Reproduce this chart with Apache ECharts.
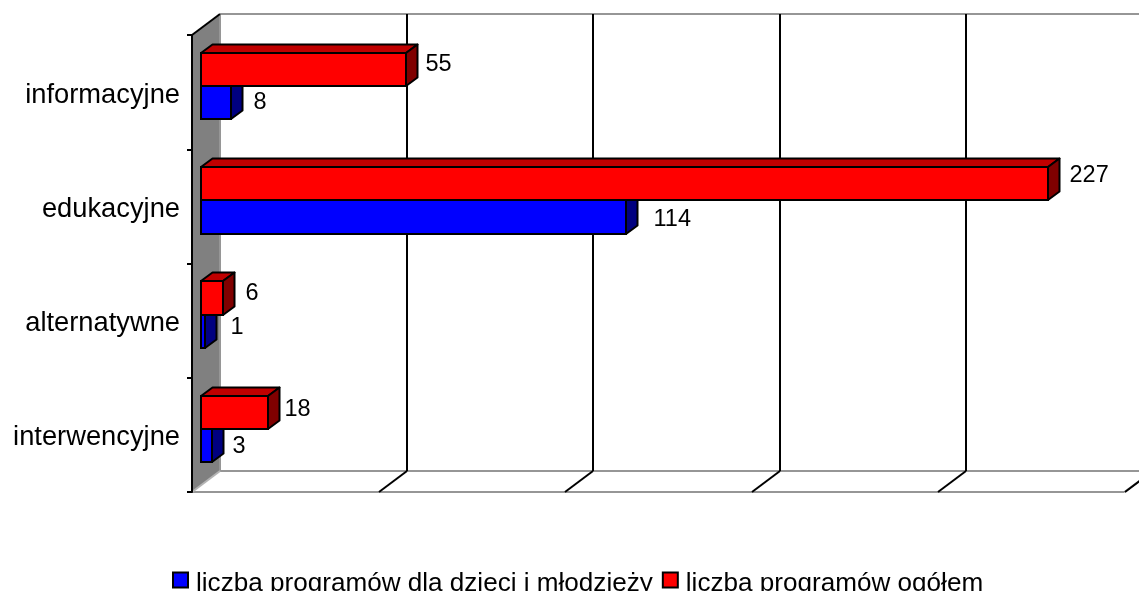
<!DOCTYPE html>
<html>
<head>
<meta charset="utf-8">
<style>
  html, body { margin: 0; padding: 0; background: #fff; overflow: hidden; }
  #chart { width: 1139px; height: 591px; }
</style>
<script src="https://cdn.jsdelivr.net/npm/echarts@6/dist/echarts.min.js"></script>
</head>
<body>
<div id="chart"></div>
<script>
const categories = ['informacyjne', 'edukacyjne', 'alternatywne', 'interwencyjne']
const youthPrograms = [8, 114, 1, 3]
const allPrograms = [55, 227, 6, 18]
const xTicks = [0, 50, 100, 150, 200, 250]

// 3D look: offset of the back wall and of the bars from the front plane
const wallDepth = [28, -21]
const barOrigin = [9, -6]
const barDepth = [11.5, -8.5]
const edge = { stroke: '#000', lineWidth: 2 }
const gray = { stroke: '#969696', lineWidth: 2 }

// excel placed the labels by hand, [dx, dy] from the default spot
const youthNudge = [[1, 0], [6, 3], [4, -4], [-1, 1]]
const allNudge = [[-2, -5], [0, -8], [1, -4], [-5, -3]]

function line(p, q, style) {
  return { type: 'line', shape: { x1: p[0], y1: p[1], x2: q[0], y2: q[1] }, style: style }
}

function shift(p, d) {
  return [p[0] + d[0], p[1] + d[1]]
}

function renderWall(params, api) {
  const band = api.size([0, 1])[1]
  const top = api.coord([0, 0])[1] - band / 2
  const bottom = api.coord([0, categories.length - 1])[1] + band / 2
  const x0 = api.coord([0, 0])[0]
  const xMax = api.coord([250, 0])[0]
  const a = [x0, top]
  const b = [x0, bottom]
  const c = [xMax, bottom]
  return {
    type: 'group',
    children: [
      {
        type: 'polygon',
        shape: { points: [a, shift(a, wallDepth), shift(b, wallDepth), b] },
        style: { fill: '#808080' }
      },
      line(shift(a, wallDepth), [shift(c, wallDepth)[0], shift(a, wallDepth)[1]], gray),
      line(shift(b, wallDepth), shift(c, wallDepth), gray),
      line(shift(a, wallDepth), shift(b, wallDepth), gray),
      line(b, c, gray),
      line(c, shift(c, wallDepth), gray),
      line(b, shift(b, wallDepth), { stroke: '#b4b4b4', lineWidth: 2 }),
      line(a, shift(a, wallDepth), edge)
    ]
  }
}

function renderGrid(params, api) {
  const v = api.value(0)
  if (v === 0) {
    return { type: 'group', children: [] }
  }
  const band = api.size([0, 1])[1]
  const x = Math.round(api.coord([v, 0])[0])
  const top = api.coord([0, 0])[1] - band / 2
  const bottom = api.coord([0, categories.length - 1])[1] + band / 2
  return {
    type: 'group',
    children: [
      line(shift([x, top], wallDepth), shift([x, bottom], wallDepth), edge),
      line([x, bottom], shift([x, bottom], wallDepth), edge)
    ]
  }
}

function barRenderer(front, topFace, side, above, nudges) {
  return function (params, api) {
    const idx = api.value(1)
    const p = api.coord([api.value(0), idx])
    const base = api.coord([0, idx])
    const thick = api.size([0, 1])[1] * 0.29
    const xL = base[0] + barOrigin[0]
    const xR = Math.round(p[0] + barOrigin[0])
    const mid = p[1] + barOrigin[1]
    const yT = Math.round(above ? mid - thick : mid)
    const yB = Math.round(above ? mid : mid + thick)
    const [dx, dy] = barDepth
    const nudge = nudges[idx]
    return {
      type: 'group',
      children: [
        {
          type: 'polygon',
          shape: { points: [[xL, yT], [xL + dx, yT + dy], [xR + dx, yT + dy], [xR, yT]] },
          style: { fill: topFace, stroke: '#000', lineWidth: 2, lineJoin: 'round' }
        },
        {
          type: 'polygon',
          shape: { points: [[xR, yT], [xR + dx, yT + dy], [xR + dx, yB + dy], [xR, yB]] },
          style: { fill: side, stroke: '#000', lineWidth: 2, lineJoin: 'round' }
        },
        {
          type: 'rect',
          shape: { x: xL, y: yT, width: xR - xL, height: yB - yT },
          style: { fill: front, stroke: '#000', lineWidth: 2 }
        },
        {
          type: 'text',
          style: {
            text: String(api.value(0)),
            x: xR + dx + 10 + nudge[0],
            y: (yT + yB) / 2 + nudge[1],
            fill: '#000',
            font: '23.5px "Liberation Sans"',
            align: 'left',
            verticalAlign: 'middle'
          }
        }
      ]
    }
  }
}

const chart = echarts.init(document.getElementById('chart'))
chart.setOption({
  animation: false,
  backgroundColor: '#fff',
  textStyle: { fontFamily: 'Liberation Sans' },
  grid: { left: 192, top: 35, width: 932.5, height: 457 },
  legend: {
    left: 167,
    top: 566,
    icon: 'rect',
    itemWidth: 15,
    itemHeight: 15,
    itemGap: 9,
    data: ['liczba programów dla dzieci i młodzieży', 'liczba programów ogółem'],
    formatter: name => '{t|' + name + '}',
    textStyle: {
      rich: {
        t: { fontSize: 26.1, color: '#000', fontFamily: 'Liberation Sans', padding: [8, 0, 0, 3] }
      }
    },
    selectedMode: false
  },
  xAxis: {
    type: 'value',
    min: 0,
    max: 250,
    interval: 50,
    axisLine: { show: false },
    axisTick: { show: false },
    axisLabel: { show: false },
    splitLine: { show: false }
  },
  yAxis: {
    type: 'category',
    inverse: true,
    data: categories,
    z: 5,
    axisLine: { onZero: false, lineStyle: { color: '#000', width: 2 } },
    axisTick: { show: true, length: 5, lineStyle: { color: '#000', width: 2 } },
    axisLabel: {
      margin: 12,
      color: '#000',
      formatter: value => '{name|' + value + '}',
      rich: {
        name: { fontSize: 27.3, fontFamily: 'Liberation Sans', color: '#000', padding: [6, 0, 0, 0] }
      }
    },
    splitLine: { show: false }
  },
  series: [
    {
      name: 'wall',
      type: 'custom',
      clip: false,
      silent: true,
      z: 1,
      renderItem: renderWall,
      data: [[0]]
    },
    {
      name: 'grid',
      type: 'custom',
      clip: false,
      silent: true,
      z: 2,
      renderItem: renderGrid,
      data: xTicks.map(t => [t])
    },
    {
      name: 'liczba programów dla dzieci i młodzieży',
      type: 'custom',
      clip: false,
      z: 3,
      itemStyle: { color: '#0000ff', borderColor: '#000', borderWidth: 2 },
      renderItem: barRenderer('#0000ff', '#0000c0', '#000080', false, youthNudge),
      encode: { x: 0, y: 1 },
      data: youthPrograms.map((v, i) => [v, i])
    },
    {
      name: 'liczba programów ogółem',
      type: 'custom',
      clip: false,
      z: 4,
      itemStyle: { color: '#ff0000', borderColor: '#000', borderWidth: 2 },
      renderItem: barRenderer('#ff0000', '#c00000', '#800000', true, allNudge),
      encode: { x: 0, y: 1 },
      data: allPrograms.map((v, i) => [v, i])
    }
  ]
})
</script>
</body>
</html>
